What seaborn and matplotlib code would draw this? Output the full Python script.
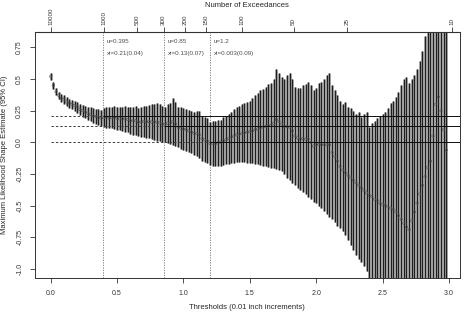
import numpy as np
import pandas as pd
import seaborn as sns
import matplotlib
matplotlib.use('Agg')
import matplotlib.pyplot as plt

# seuils (pas de 0.02 pour rester lisible)
seuils = np.round(np.arange(0, 3.0, 0.02), 2)

# estimation du parametre de forme (xi)
xi_est = [
    0.52, 0.45, 0.40, 0.37, 0.35, 0.34, 0.32, 0.31, 0.30, 0.29,
    0.28, 0.26, 0.25, 0.24, 0.23, 0.22, 0.21, 0.205, 0.195, 0.19,
    0.195, 0.20, 0.19, 0.195, 0.195, 0.19, 0.185, 0.185, 0.185, 0.18,
    0.17, 0.17, 0.17, 0.16, 0.16, 0.165, 0.16, 0.165, 0.16, 0.16,
    0.16, 0.155, 0.145, 0.14, 0.15, 0.15, 0.165, 0.145, 0.12, 0.11,
    0.105, 0.10, 0.09, 0.08, 0.07, 0.07, 0.06, 0.03, 0.02, 0.01,
    -0.01, -0.01, -0.01, -0.005, 0.0, 0.01, 0.02, 0.03, 0.04, 0.05,
    0.06, 0.065, 0.07, 0.075, 0.08, 0.085, 0.09, 0.10, 0.105, 0.115,
    0.12, 0.125, 0.13, 0.135, 0.15, 0.18, 0.165, 0.145, 0.125, 0.125,
    0.12, 0.09, 0.05, 0.035, 0.025, 0.03, 0.025, 0.025, 0.0, -0.03,
    -0.02, -0.015, -0.02, -0.02, -0.02, -0.02, -0.08, -0.11, -0.15, -0.19,
    -0.22, -0.24, -0.26, -0.28, -0.30, -0.32, -0.34, -0.36, -0.38, -0.40,
    -0.42, -0.43, -0.45, -0.46, -0.48, -0.49, -0.50, -0.51, -0.52, -0.53,
    -0.55, -0.58, -0.61, -0.64, -0.67, -0.69, -0.62, -0.55, -0.48, -0.41,
    -0.34, -0.27, -0.20, -0.15, 0.05, 0.30, 0.36, 0.25, 0.10, -0.06,
]

# bornes de l'intervalle de confiance a 95%
ic_haut = [
    0.55, 0.48, 0.43, 0.40, 0.38, 0.37, 0.355, 0.345, 0.335, 0.33,
    0.32, 0.305, 0.295, 0.29, 0.28, 0.275, 0.27, 0.265, 0.26, 0.255,
    0.27, 0.28, 0.275, 0.28, 0.285, 0.28, 0.275, 0.28, 0.285, 0.28,
    0.28, 0.275, 0.285, 0.27, 0.28, 0.29, 0.285, 0.295, 0.30, 0.30,
    0.31, 0.30, 0.285, 0.28, 0.30, 0.31, 0.35, 0.32, 0.28, 0.275,
    0.27, 0.26, 0.255, 0.25, 0.24, 0.25, 0.245, 0.21, 0.20, 0.19,
    0.16, 0.165, 0.17, 0.175, 0.18, 0.20, 0.21, 0.225, 0.24, 0.26,
    0.28, 0.29, 0.30, 0.31, 0.32, 0.33, 0.35, 0.37, 0.39, 0.41,
    0.42, 0.44, 0.46, 0.47, 0.50, 0.58, 0.55, 0.52, 0.50, 0.53,
    0.545, 0.50, 0.44, 0.43, 0.43, 0.45, 0.46, 0.48, 0.45, 0.41,
    0.43, 0.47, 0.48, 0.50, 0.53, 0.545, 0.45, 0.41, 0.37, 0.33,
    0.30, 0.32, 0.28, 0.27, 0.25, 0.22, 0.24, 0.20, 0.22, 0.24,
    0.12, 0.15, 0.17, 0.19, 0.21, 0.22, 0.24, 0.27, 0.31, 0.33,
    0.36, 0.40, 0.45, 0.50, 0.52, 0.47, 0.50, 0.53, 0.58, 0.64,
    0.72, 0.84, 0.95, 1.10, 1.30, 1.50, 1.60, 1.70, 1.80, 1.90,
]
ic_bas = [
    0.49, 0.42, 0.37, 0.34, 0.32, 0.305, 0.285, 0.27, 0.26, 0.25,
    0.235, 0.215, 0.20, 0.19, 0.175, 0.165, 0.155, 0.145, 0.135, 0.125,
    0.12, 0.115, 0.11, 0.11, 0.105, 0.10, 0.095, 0.09, 0.085, 0.08,
    0.065, 0.06, 0.055, 0.05, 0.045, 0.04, 0.035, 0.03, 0.025, 0.02,
    0.012, 0.008, 0.005, 0.0, -0.005, -0.01, -0.02, -0.03, -0.04, -0.05,
    -0.06, -0.065, -0.075, -0.085, -0.10, -0.11, -0.125, -0.145, -0.155, -0.165,
    -0.18, -0.185, -0.187, -0.187, -0.185, -0.18, -0.175, -0.17, -0.166, -0.16,
    -0.155, -0.155, -0.155, -0.155, -0.16, -0.16, -0.165, -0.17, -0.175, -0.18,
    -0.185, -0.19, -0.195, -0.20, -0.205, -0.215, -0.22, -0.23, -0.25, -0.28,
    -0.30, -0.32, -0.34, -0.36, -0.38, -0.39, -0.41, -0.43, -0.45, -0.47,
    -0.48, -0.50, -0.52, -0.54, -0.57, -0.59, -0.61, -0.63, -0.66, -0.68,
    -0.70, -0.73, -0.77, -0.81, -0.85, -0.89, -0.92, -0.95, -0.98, -1.02,
    -1.12, -1.15, -1.18, -1.20, -1.22, -1.25, -1.28, -1.30, -1.32, -1.35,
    -1.40, -1.40, -1.40, -1.40, -1.40, -1.40, -1.40, -1.40, -1.40, -1.40,
    -1.40, -1.40, -1.40, -1.40, -1.40, -1.40, -1.40, -1.40, -1.40, -1.40,
]

# seuils retenus et estimations associees
seuils_choisis = [0.395, 0.85, 1.2]
xi_choisis = [0.21, 0.13, 0.003]
labels_u = ['u=0.395', 'u=0.85', 'u=1.2']
labels_xi = ['xi=0.21(0.04)', 'xi=0.13(0.07)', 'xi=0.003(0.09)']

# axe du haut : nombre de depassements
nb_depass = ['10000', '1000', '500', '300', '200', '150', '100', '50', '25', '10']
nb_depass_pos = [0.0, 0.40, 0.65, 0.85, 1.01, 1.17, 1.44, 1.83, 2.23, 3.02]

df = pd.DataFrame({'seuil': seuils, 'xi': xi_est, 'bas': ic_bas, 'haut': ic_haut})

sns.set_style('ticks')
plt.rcParams['font.family'] = ['Liberation Sans', 'DejaVu Sans']

fig = plt.figure(figsize=(4.65, 3.13), dpi=100)
ax = fig.add_axes([0.0753, 0.111, 0.913, 0.786])

# intervalles de confiance (fond gris + trait noir fin)
ax.vlines(df['seuil'], df['bas'], df['haut'], color='0.5', lw=1.8, zorder=2)
ax.vlines(df['seuil'], df['bas'], df['haut'], color='0.05', lw=0.6, zorder=2)

# estimations ponctuelles
sns.scatterplot(data=df, x='seuil', y='xi', ax=ax, marker='o', s=3,
                facecolor='none', edgecolor='0.3', linewidth=0.4, zorder=3, legend=False)

xmin, xmax = -0.118, 3.08
for u, xi, lu, lx in zip(seuils_choisis, xi_choisis, labels_u, labels_xi):
    ax.axvline(u, color='0.45', ls=(0, (1.5, 1.5)), lw=0.6, zorder=1)
    ax.hlines(xi, 0, u, colors='0.25', linestyles=(0, (2.5, 2)), lw=0.7, zorder=4)
    ax.hlines(xi, u, xmax, colors='0.05', lw=0.7, zorder=4)
    ax.text(u + 0.03, 0.80, lu, fontsize=4.5, color='0.3', va='center')
    ax.text(u + 0.03, 0.70, lx, fontsize=4.5, color='0.3', va='center')

ax.set_xlim(xmin, xmax)
ax.set_ylim(-1.075, 0.87)
ax.set_xticks([0, 0.5, 1.0, 1.5, 2.0, 2.5, 3.0])
ax.set_xticklabels(['0.0', '0.5', '1.0', '1.5', '2.0', '2.5', '3.0'])
ax.set_yticks([-1.0, -0.75, -0.5, -0.25, 0.0, 0.25, 0.5, 0.75])
ax.set_yticklabels(['-1.0', '-0.75', '-0.5', '-0.25', '0.0', '0.25', '0.5', '0.75'],
                   rotation=90, va='center')
ax.tick_params(labelsize=5, colors='0.2', length=3.5, width=0.6, pad=5)
ax.set_xlabel('Thresholds (0.01 inch increments)', fontsize=5.5, color='0.15', labelpad=5)
ax.set_ylabel('Maximum Likelihood Shape Estimate (95% CI)', fontsize=5.5, color='0.15', labelpad=6)
for sp in ax.spines.values():
    sp.set_linewidth(0.7)
    sp.set_color('0.2')

top = ax.secondary_xaxis('top')
top.set_xticks(nb_depass_pos)
top.set_xticklabels(nb_depass, rotation=90)
top.tick_params(labelsize=4.5, colors='0.2', length=3.5, width=0.6, pad=2)
ax.text(0.5, 1.11, 'Number of Exceedances', transform=ax.transAxes,
        ha='center', va='center', fontsize=5.5, color='0.15')

fig.savefig('out.png', dpi=100)
